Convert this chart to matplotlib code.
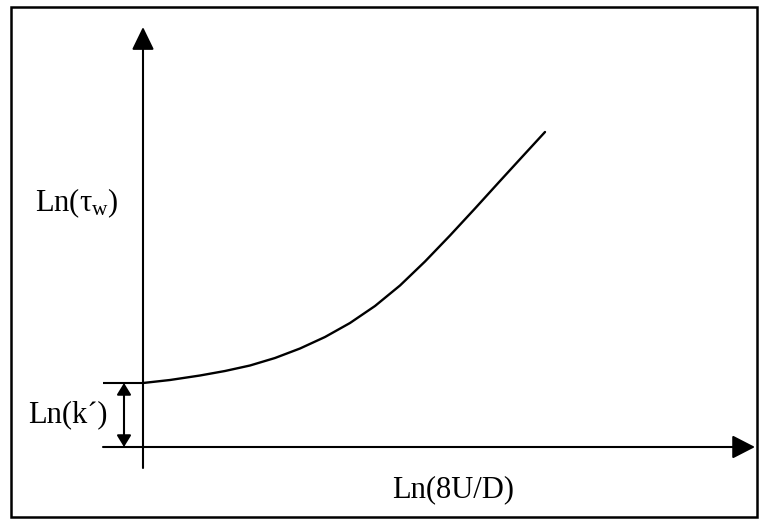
import matplotlib
matplotlib.use("Agg")
import matplotlib.pyplot as plt
from matplotlib.patches import Rectangle

plt.rcParams["font.family"] = ["Liberation Serif", "DejaVu Serif"]
plt.rcParams["mathtext.fontset"] = "custom"
plt.rcParams["mathtext.rm"] = "Liberation Serif"
plt.rcParams["mathtext.it"] = "Liberation Serif:italic"

# Flow curve: Ln(tau_w) against Ln(8U/D)
ln_shear_rate = [0.00, 0.27, 0.57, 0.82, 1.07, 1.32, 1.57, 1.82, 2.07,
                 2.32, 2.57, 2.82, 3.07, 3.32, 3.57, 3.79, 4.02]
ln_wall_stress = [0.64, 0.67, 0.715, 0.76, 0.815, 0.89, 0.985, 1.10, 1.24,
                  1.41, 1.615, 1.855, 2.115, 2.385, 2.66, 2.90, 3.15]
ln_k_prime = 0.64

x_label = "Ln(8U/D)"
y_label = r"Ln($\mathrm{\tau}_{\mathrm{w}}$)"
k_label = "Ln(k´)"

fig = plt.figure(figsize=(7.59, 5.20), dpi=100)
ax = fig.add_axes([0, 0, 1, 1])
ax.set_xlim(-1.43, 6.16)
ax.set_ylim(-0.73, 4.47)
ax.axis("off")

# outer frame
fig.patches.append(Rectangle((11 / 759, 3 / 520), 746 / 759, 510 / 520,
                             transform=fig.transFigure, fill=False,
                             edgecolor="black", linewidth=1.8))

lw = 1.5
# vertical axis with arrow
ax.annotate("", xy=(0, 4.20), xytext=(0, -0.21),
            arrowprops=dict(arrowstyle="-|>,head_length=14,head_width=6.8",
                            mutation_scale=1, lw=lw, color="black",
                            shrinkA=0, shrinkB=0))
# horizontal axis with arrow
ax.annotate("", xy=(6.12, 0), xytext=(-0.40, 0),
            arrowprops=dict(arrowstyle="-|>,head_length=14,head_width=7.2",
                            mutation_scale=1, lw=lw, color="black",
                            shrinkA=0, shrinkB=0))

# intercept marker line
ax.plot([-0.40, 0], [ln_k_prime, ln_k_prime], color="black", lw=lw,
        solid_capstyle="butt")
# double arrow for Ln(k')
ax.annotate("", xy=(-0.19, ln_k_prime), xytext=(-0.19, 0),
            arrowprops=dict(arrowstyle="<|-|>,head_length=7,head_width=4.3",
                            mutation_scale=1, lw=lw, color="black",
                            shrinkA=0, shrinkB=0))

# curve
ax.plot(ln_shear_rate, ln_wall_stress, color="black", lw=1.7,
        solid_capstyle="round", solid_joinstyle="round")

ax.text(2.49, -0.43, x_label, fontsize=22, ha="left", va="center")
ax.text(-1.08, 2.44, y_label, fontsize=22, ha="left", va="center")
ax.text(-1.15, 0.32, k_label, fontsize=22, ha="left", va="center")

fig.savefig("out.png", dpi=100)
